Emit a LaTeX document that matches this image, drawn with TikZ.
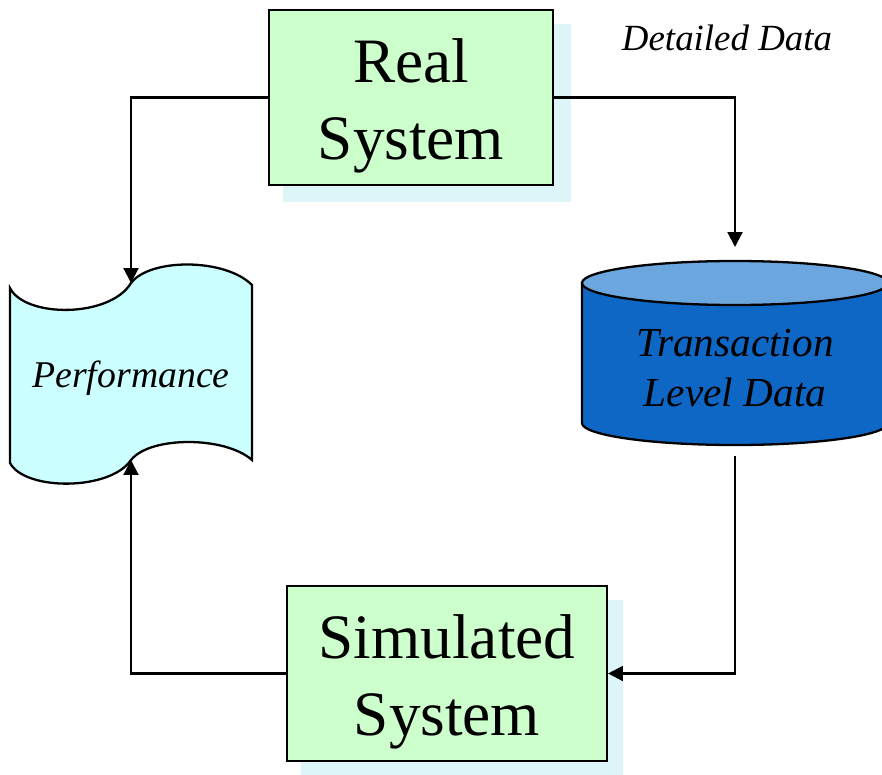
\documentclass[tikz,border=0pt]{standalone}
\usepackage{fontspec}
\setmainfont{Liberation Serif}
\usetikzlibrary{arrows.meta,calc,positioning}
\definecolor{SysGreen}{HTML}{CCFFCC}
\definecolor{SysShadow}{HTML}{DDF4F8}
\definecolor{TapeCyan}{HTML}{CCFFFF}
\definecolor{DbBody}{HTML}{0F67C5}
\definecolor{DbTop}{HTML}{6CA6DE}
\tikzset{
  every node/.style={text=black},
  sysbox/.style={draw=black, line width=1.2pt, fill=SysGreen, inner sep=0pt, minimum height=3.5cm},
  systext/.style={align=center, font=\fontsize{36}{43.7}\selectfont},
  outline/.style={draw=black, line width=1.3pt},
  dbtext/.style={align=center, font=\fontsize{23.5}{28.4}\selectfont\itshape},
  tapetext/.style={font=\fontsize{21.5}{26}\selectfont\itshape},
  note/.style={font=\fontsize{21}{25}\selectfont\itshape},
  link/.style={-{Triangle[length=8.5pt,width=8.5pt]}, draw=black, line width=1.2pt},
}

\begin{document}
\begin{tikzpicture}[x=0.02cm,y=0.02cm]
  \useasboundingbox (0,0) rectangle (882,-774);
  \clip (0,0) rectangle (882,-774);
  % shadows behind the two system boxes
  \fill[SysShadow] (283,-24) rectangle (571,-202);
  \fill[SysShadow] (301,-600) rectangle (623,-780);
  \node[sysbox, minimum width=5.68cm] (real) at (411,-97.5) {};
  \node[systext] (real-text) at ([yshift=-0.17cm]real.center) {Real\\System};
  \node[sysbox, minimum width=6.4cm] (sim) at (447,-673.5) {};
  \node[systext] (sim-text) at ([yshift=-0.17cm]sim.center) {Simulated\\System};
  % database cylinder
  \filldraw[outline, fill=DbBody] (582,-283) -- (582,-423)
    arc[start angle=180, end angle=360, x radius=153, y radius=22] -- (888,-283) -- cycle;
  \filldraw[outline, fill=DbTop] (735,-283) ellipse[x radius=153, y radius=22];
  \node[dbtext] (db) at (735,-368) {Transaction\\Level Data};
  \coordinate (db-in) at (735,-247);
  \coordinate (db-out) at (735,-456);
  % punched tape
  \filldraw[outline, fill=TapeCyan] (10,-288)
    .. controls (25,-318) and (110,-318) .. (131,-283)
    .. controls (150,-258) and (225,-258) .. (252,-285) -- (252,-460)
    .. controls (225,-436) and (150,-436) .. (131,-460)
    .. controls (110,-491) and (25,-491) .. (10,-463) -- cycle;
  \node[tapetext] (perf) at (131,-378) {Performance};
  \coordinate (perf-top) at (131,-283);
  \coordinate (perf-bot) at (131,-460);
  \node[note] (detail) at (727,-38) {Detailed Data};
  % connectors
  \draw[link] (real.west) -| (perf-top);
  \draw[link] (real.east) -| (db-in);
  \draw[link] (db-out) |- (sim.east);
  \draw[link] (sim.west) -| (perf-bot);
\end{tikzpicture}
\end{document}
